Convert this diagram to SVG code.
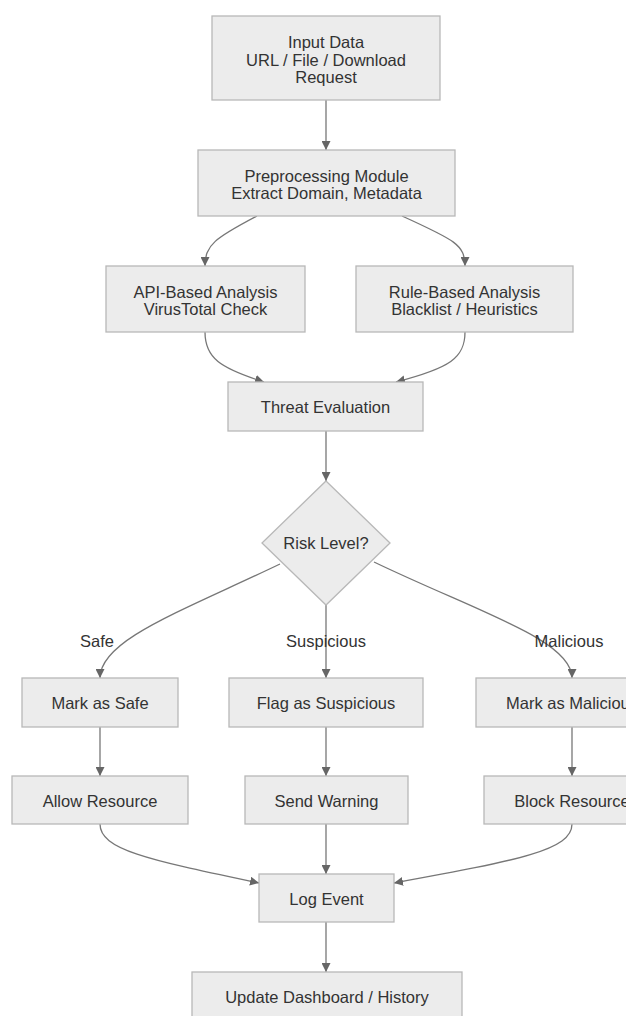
<svg xmlns="http://www.w3.org/2000/svg" width="626" height="1016" viewBox="0 0 626 1016">
<defs>
<marker id="arr" viewBox="0 0 10 10" refX="10" refY="5" markerWidth="9" markerHeight="9" markerUnits="userSpaceOnUse" orient="auto">
<path d="M0,0 L10,5 L0,10 z" fill="#666"/>
</marker>
<style>
.n rect,.n polygon{fill:#ececec;stroke:#b8b8b8;stroke-width:1.3}
.n text,.lbl{font-family:"Liberation Sans",Arial,sans-serif;font-size:16.5px;fill:#333;text-anchor:middle;dominant-baseline:central}
.e path{fill:none;stroke:#777;stroke-width:1.3;marker-end:url(#arr)}
</style>
</defs>
<rect width="626" height="1016" fill="#fff"/>
<g id="edges" class="e">
<path d="M326,100 L326,150"/>
<path d="M257,216 C215,238 205,245 205,266"/>
<path d="M402,216 C455,240 465,245 465,266"/>
<path d="M205,332 C205,358 220,368 264,382"/>
<path d="M465,332 C465,358 450,368 396,382"/>
<path d="M326,431 L326,481"/>
<path d="M280,564 C180,612 100,640 100,678"/>
<path d="M326,605 L326,678"/>
<path d="M374,562 C478,612 572,640 572,678"/>
<path d="M100,727 L100,776"/>
<path d="M326,727 L326,776"/>
<path d="M572,727 L572,776"/>
<path d="M100,824 C100,850 150,860 259,883"/>
<path d="M326,824 L326,874"/>
<path d="M572,824 C572,850 520,860 394,883"/>
<path d="M326,922 L326,972"/>
</g>
<g id="edge-labels">
<text class="lbl" x="97" y="641">Safe</text>
<text class="lbl" x="326" y="641">Suspicious</text>
<text class="lbl" x="569" y="641">Malicious</text>
</g>
<g id="input" class="n"><rect x="212" y="16" width="228" height="84"/>
<text x="326" y="42">Input Data</text><text x="326" y="60">URL / File / Download</text><text x="326" y="77">Request</text></g>
<g id="preprocess" class="n"><rect x="198" y="150" width="257" height="66"/>
<text x="326.5" y="176">Preprocessing Module</text><text x="326.5" y="193">Extract Domain, Metadata</text></g>
<g id="api" class="n"><rect x="106" y="266" width="199" height="66"/>
<text x="205.5" y="292">API-Based Analysis</text><text x="205.5" y="309">VirusTotal Check</text></g>
<g id="rule" class="n"><rect x="356" y="266" width="217" height="66"/>
<text x="464.5" y="292">Rule-Based Analysis</text><text x="464.5" y="309">Blacklist / Heuristics</text></g>
<g id="threat" class="n"><rect x="228" y="382" width="195" height="49"/>
<text x="325.5" y="407">Threat Evaluation</text></g>
<g id="risk" class="n"><polygon points="326,481 390,543 326,605 262,543"/>
<text x="326" y="543">Risk Level?</text></g>
<g id="safe" class="n"><rect x="22" y="678" width="156" height="49"/>
<text x="100" y="703">Mark as Safe</text></g>
<g id="suspicious" class="n"><rect x="229" y="678" width="194" height="49"/>
<text x="326" y="703">Flag as Suspicious</text></g>
<g id="malicious" class="n"><rect x="476" y="678" width="192" height="49"/>
<text x="572" y="703">Mark as Malicious</text></g>
<g id="allow" class="n"><rect x="12" y="776" width="176" height="48"/>
<text x="100" y="801">Allow Resource</text></g>
<g id="warn" class="n"><rect x="245" y="776" width="163" height="48"/>
<text x="326.5" y="801">Send Warning</text></g>
<g id="block" class="n"><rect x="484" y="776" width="176" height="48"/>
<text x="572" y="801">Block Resource</text></g>
<g id="log" class="n"><rect x="259" y="874" width="135" height="48"/>
<text x="326.5" y="899">Log Event</text></g>
<g id="update" class="n"><rect x="192" y="972" width="270" height="49"/>
<text x="327" y="997">Update Dashboard / History</text></g>
</svg>
